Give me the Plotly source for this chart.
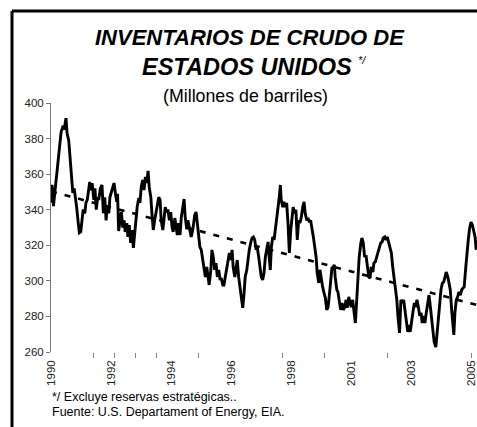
import plotly.graph_objects as go

# Inventarios semanales de crudo (millones de barriles), fecha en años decimales
anio = [
    1990.00, 1990.04, 1990.09, 1990.16, 1990.25, 1990.30, 1990.37, 1990.43, 1990.49, 1990.55,
    1990.59, 1990.65, 1990.70, 1990.74, 1990.80, 1990.85, 1990.89, 1990.94, 1991.00, 1991.04,
    1991.09, 1991.14, 1991.18, 1991.24, 1991.28, 1991.33, 1991.38, 1991.42, 1991.47, 1991.51,
    1991.57, 1991.61, 1991.66, 1991.71, 1991.75, 1991.81, 1991.87, 1991.92, 1991.97, 1992.02,
    1992.06, 1992.12, 1992.16, 1992.21, 1992.26, 1992.31, 1992.36, 1992.41, 1992.44, 1992.48,
    1992.53, 1992.58, 1992.63, 1992.68, 1992.72, 1992.78, 1992.82, 1992.87, 1992.92, 1992.97,
    1993.02, 1993.07, 1993.12, 1993.16, 1993.22, 1993.26, 1993.31, 1993.36, 1993.41, 1993.46,
    1993.51, 1993.56, 1993.60, 1993.66, 1993.70, 1993.75, 1993.80, 1993.85, 1993.90, 1993.95,
    1994.00, 1994.04, 1994.10, 1994.14, 1994.19, 1994.24, 1994.29, 1994.34, 1994.39, 1994.44,
    1994.48, 1994.54, 1994.58, 1994.63, 1994.68, 1994.73, 1994.78, 1994.83, 1994.88, 1994.92,
    1994.98, 1995.02, 1995.09, 1995.14, 1995.21, 1995.27, 1995.32, 1995.36, 1995.42, 1995.46,
    1995.51, 1995.56, 1995.61, 1995.66, 1995.71, 1995.76, 1995.80, 1995.86, 1995.90, 1995.95,
    1996.00, 1996.05, 1996.10, 1996.15, 1996.20, 1996.24, 1996.30, 1996.34, 1996.39, 1996.44,
    1996.49, 1996.54, 1996.59, 1996.64, 1996.68, 1996.74, 1996.78, 1996.83, 1996.88, 1996.93,
    1996.98, 1997.03, 1997.08, 1997.12, 1997.18, 1997.22, 1997.27, 1997.32, 1997.37, 1997.42,
    1997.47, 1997.52, 1997.56, 1997.62, 1997.66, 1997.71, 1997.76, 1997.81, 1997.86, 1997.91,
    1997.96, 1998.00, 1998.04, 1998.08, 1998.13, 1998.18, 1998.22, 1998.28, 1998.32, 1998.37,
    1998.41, 1998.44, 1998.50, 1998.54, 1998.59, 1998.64, 1998.69, 1998.74, 1998.79, 1998.84,
    1998.88, 1998.94, 1998.98, 1999.03, 1999.08, 1999.13, 1999.18, 1999.23, 1999.28, 1999.32,
    1999.38, 1999.42, 1999.47, 1999.52, 1999.57, 1999.62, 1999.67, 1999.72, 1999.76, 1999.82,
    1999.86, 1999.91, 1999.96, 2000.01, 2000.06, 2000.11, 2000.16, 2000.20, 2000.26, 2000.30,
    2000.35, 2000.39, 2000.42, 2000.48, 2000.52, 2000.57, 2000.62, 2000.67, 2000.72, 2000.77,
    2000.82, 2000.86, 2000.92, 2000.96, 2001.01, 2001.06, 2001.11, 2001.16, 2001.21, 2001.26,
    2001.30, 2001.36, 2001.40, 2001.45, 2001.50, 2001.55, 2001.60, 2001.65, 2001.70, 2001.74,
    2001.80, 2001.84, 2001.89, 2001.94, 2001.99, 2002.04, 2002.09, 2002.14, 2002.18, 2002.24,
    2002.28, 2002.33, 2002.38, 2002.43, 2002.48, 2002.53, 2002.58, 2002.62, 2002.68, 2002.72,
    2002.78, 2002.83, 2002.88, 2002.93, 2002.98, 2003.03, 2003.08, 2003.13, 2003.17, 2003.23,
    2003.27, 2003.32, 2003.37, 2003.42, 2003.47, 2003.52, 2003.57, 2003.61, 2003.67, 2003.71,
    2003.76, 2003.81, 2003.86, 2003.91, 2003.96, 2004.01, 2004.05, 2004.11, 2004.15, 2004.20,
    2004.25, 2004.30, 2004.35, 2004.40, 2004.45, 2004.49, 2004.55, 2004.59, 2004.64, 2004.69,
    2004.74, 2004.77, 2004.81, 2004.86, 2004.91, 2004.96, 2005.01, 2005.06, 2005.11, 2005.15,
    2005.21, 2005.25, 2005.30, 2005.35, 2005.40, 2005.45, 2005.50, 2005.55, 2005.59,
]
inventario = [
    344.0, 354.0, 342.0, 353.0, 368.0, 373.6, 383.7, 386.5, 386.0, 391.5,
    383.0, 379.0, 369.6, 358.4, 349.4, 352.0, 345.5, 341.5, 332.5, 327.0,
    327.5, 336.0, 340.0, 338.0, 343.8, 345.5, 352.0, 355.6, 351.0, 355.0,
    345.5, 352.0, 340.0, 347.0, 345.5, 352.0, 353.9, 338.0, 347.0, 334.0,
    341.5, 338.0, 347.0, 350.0, 352.0, 355.0, 349.4, 344.4, 349.0, 328.0,
    334.0, 338.7, 330.0, 334.0, 327.5, 332.5, 324.7, 331.4, 321.3, 328.6,
    318.5, 327.0, 334.0, 341.5, 346.6, 343.8, 352.8, 356.7, 351.0, 358.4,
    355.0, 361.8, 352.8, 347.0, 338.0, 328.6, 334.0, 338.7, 343.8, 347.0,
    345.5, 334.0, 328.6, 336.0, 341.5, 338.7, 340.0, 334.0, 338.7, 330.0,
    327.5, 335.3, 330.0, 325.8, 332.5, 325.8, 336.0, 341.5, 346.0, 336.0,
    329.0, 334.0, 328.0, 324.7, 330.0, 337.0, 338.7, 332.5, 324.7, 319.0,
    317.4, 311.7, 307.8, 302.2, 307.8, 300.5, 297.7, 306.2, 317.4, 313.4,
    306.2, 310.0, 302.2, 306.2, 300.5, 301.6, 297.7, 297.7, 302.2, 306.2,
    310.0, 315.7, 311.7, 317.4, 307.8, 302.2, 306.2, 311.7, 302.2, 296.6,
    291.0, 284.8, 293.2, 302.2, 306.2, 311.7, 317.4, 321.3, 324.1, 324.7,
    323.0, 317.4, 319.0, 312.9, 306.2, 302.2, 300.5, 304.4, 313.4, 319.0,
    321.9, 313.4, 306.2, 319.0, 324.7, 323.0, 327.5, 334.0, 341.5, 347.0,
    353.9, 345.5, 341.5, 344.4, 341.5, 343.8, 332.5, 315.7, 328.6, 338.0,
    341.5, 338.0, 340.0, 323.0, 334.0, 332.5, 336.0, 341.5, 344.4, 338.0,
    334.0, 335.3, 333.0, 334.0, 330.0, 324.7, 319.0, 313.4, 304.4, 298.8,
    306.2, 300.5, 296.6, 293.2, 290.4, 283.7, 285.3, 291.0, 298.8, 307.2,
    307.8, 309.0, 302.2, 295.0, 293.8, 289.3, 283.7, 287.6, 283.7, 285.3,
    289.3, 284.8, 291.0, 287.6, 285.3, 289.3, 282.0, 276.3, 289.3, 304.4,
    313.4, 321.3, 324.1, 321.3, 313.4, 314.5, 307.8, 302.2, 301.6, 307.8,
    305.0, 310.0, 310.6, 313.4, 315.7, 319.0, 321.3, 321.9, 324.1, 324.7,
    323.0, 324.7, 321.9, 319.0, 315.7, 307.8, 302.2, 296.6, 289.3, 280.3,
    270.7, 289.3, 287.6, 289.3, 283.7, 278.0, 271.3, 275.2, 271.3, 278.0,
    283.7, 287.6, 285.3, 289.3, 285.3, 280.3, 282.0, 276.3, 280.3, 276.3,
    282.0, 287.6, 292.0, 285.3, 278.0, 270.7, 265.6, 262.8, 270.7, 280.3,
    287.6, 295.0, 298.8, 299.4, 302.2, 305.0, 302.2, 298.8, 295.0, 283.7,
    276.3, 269.6, 282.0, 289.3, 291.0, 293.8, 292.0, 295.0, 296.0, 296.6,
    307.8, 317.4, 323.0, 329.7, 333.0, 331.4, 328.6, 324.7, 317.4,
]

# Tendencia lineal del periodo
tendencia_anio = [1990.0, 2005.6]
tendencia_valor = [350.3, 286.5]

# Ejes
etiquetas_anio = [1990.0, 1992.2, 1994.4, 1996.6, 1998.8, 2001.0, 2003.2, 2005.4]
etiquetas_texto = ["1990", "1992", "1994", "1996", "1998", "2001", "2003", "2005"]
marcas_menores = [1991.54, 1992.31, 1993.08, 1993.85, 1995.39, 1998.47, 2000.01, 2002.32, 2005.40]
valores_y = [260, 280, 300, 320, 340, 360, 380, 400]

W, H = 477, 427
ML, MR, MT, MB = 51, 0, 103, 75
FONT = "Liberation Sans, Arial, sans-serif"


def fx(x):
    return (x - ML) / (W - ML - MR)


def fy(y):
    return (H - MB - y) / (H - MT - MB)


fig = go.Figure()
fig.add_trace(go.Scatter(
    x=tendencia_anio, y=tendencia_valor, mode="lines",
    line=dict(color="black", width=2.6, dash="6px,8px"),
    hoverinfo="skip", showlegend=False,
))
fig.add_trace(go.Scatter(
    x=anio, y=inventario, mode="lines",
    line=dict(color="black", width=2.9),
    showlegend=False,
))

fig.update_xaxes(
    range=[1990.0, 2005.62],
    tickmode="array", tickvals=etiquetas_anio, ticktext=etiquetas_texto,
    tickangle=-90, ticks="", ticklabelstandoff=5,
    tickfont=dict(family=FONT, size=11.5, color="#222"),
    showline=False, showgrid=False, zeroline=False,
    minor=dict(tickmode="array", tickvals=marcas_menores, ticks="outside",
               ticklen=5, tickwidth=1, tickcolor="#888", showgrid=False),
)
fig.update_yaxes(
    range=[260, 400],
    tickmode="array", tickvals=valores_y,
    ticks="outside", ticklen=4, tickwidth=1, tickcolor="#777",
    tickfont=dict(family=FONT, size=11.5, color="#222"),
    showline=True, linecolor="#777", linewidth=1,
    showgrid=False, zeroline=False,
)

# Marco exterior (bordes izquierdo y superior)
marco = dict(color="black", width=3)
fig.add_shape(type="line", xref="paper", yref="paper",
              x0=fx(12), y0=fy(11), x1=fx(480), y1=fy(11), line=marco)
fig.add_shape(type="line", xref="paper", yref="paper",
              x0=fx(12), y0=fy(11), x1=fx(12), y1=fy(430), line=marco)

textos = [
    dict(text="<b><i>INVENTARIOS DE CRUDO DE</i></b>", x=fx(250), y=fy(37),
         size=22, xanchor="center"),
    dict(text="<b><i>ESTADOS UNIDOS</i></b>", x=fx(247), y=fy(67),
         size=23.5, xanchor="center"),
    dict(text="<i>*/</i>", x=fx(356), y=fy(60), size=11, xanchor="left"),
    dict(text="(Millones de barriles)", x=fx(245), y=fy(96),
         size=17.8, xanchor="center"),
    dict(text="*/ Excluye reservas estratégicas..", x=fx(50), y=fy(397),
         size=12.5, xanchor="left"),
    dict(text="Fuente: U.S. Departament of Energy, EIA.", x=fx(50), y=fy(412),
         size=12.5, xanchor="left"),
]
for t in textos:
    fig.add_annotation(
        text=t["text"], x=t["x"], y=t["y"], xref="paper", yref="paper",
        xanchor=t["xanchor"], yanchor="middle", showarrow=False,
        font=dict(family=FONT, size=t["size"], color="black"),
    )

fig.update_layout(
    width=W, height=H,
    margin=dict(l=ML, r=MR, t=MT, b=MB, pad=0),
    paper_bgcolor="white", plot_bgcolor="white",
)

fig.write_html("out.html")
